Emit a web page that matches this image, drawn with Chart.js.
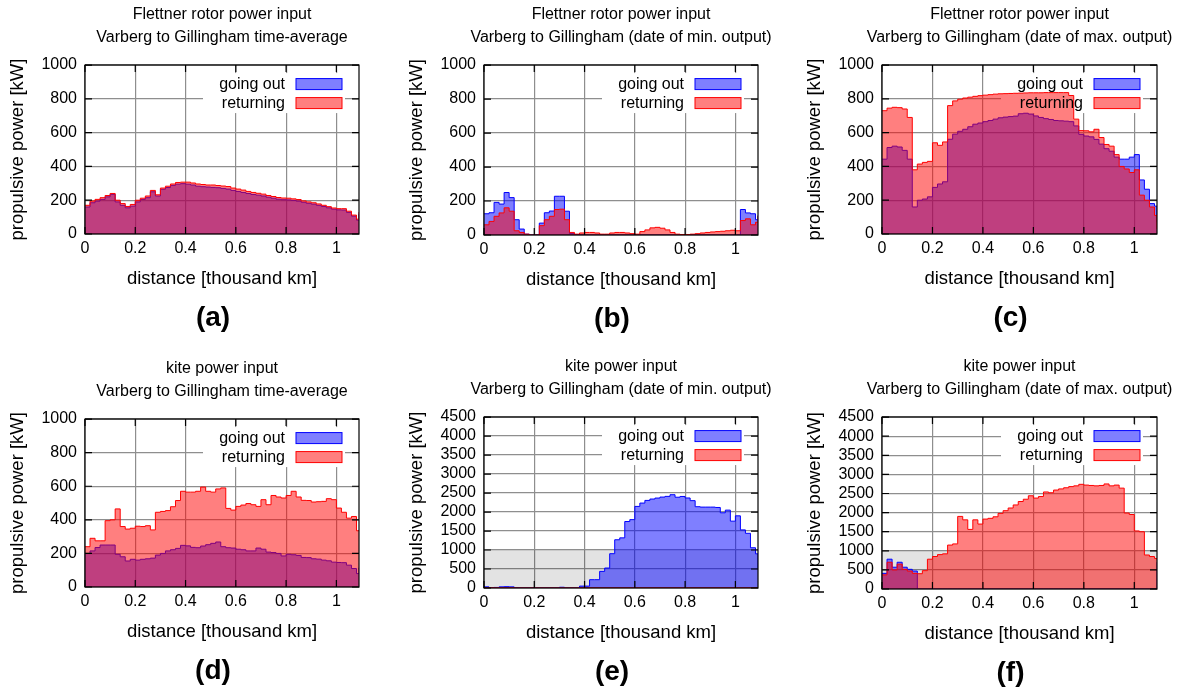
<!DOCTYPE html>
<html>
<head>
<meta charset="utf-8">
<script src="https://cdn.jsdelivr.net/npm/chart.js@4"></script>
<style>
  body { margin: 0; background: #fff; width: 1181px; height: 693px; overflow: hidden; position: relative; }
  canvas { position: absolute; }
</style>
</head>
<body>
<canvas id="pa" width="444" height="347" style="left:0;top:0"></canvas>
<canvas id="pb" width="444" height="348" style="left:399px;top:0"></canvas>
<canvas id="pc" width="445" height="347" style="left:797px;top:0"></canvas>
<canvas id="pd" width="444" height="346" style="left:0;top:354px"></canvas>
<canvas id="pe" width="444" height="349" style="left:399px;top:352px"></canvas>
<canvas id="pf" width="445" height="350" style="left:797px;top:352px"></canvas>
<script>
// distance along the route [thousand km]
const distance = [
  0.00,0.02,0.04,0.06,0.08,0.10,0.12,0.14,0.16,0.18,
  0.20,0.22,0.24,0.26,0.28,0.30,0.32,0.34,0.36,0.38,
  0.40,0.42,0.44,0.46,0.48,0.50,0.52,0.54,0.56,0.58,
  0.60,0.62,0.64,0.66,0.68,0.70,0.72,0.74,0.76,0.78,
  0.80,0.82,0.84,0.86,0.88,0.90,0.92,0.94,0.96,0.98,
  1.00,1.02,1.04,1.06,1.08,1.09
];

// Flettner rotor, time-average (a)
const rotorAvgOut = [
  160,185,195,205,220,235,190,170,155,165,
  190,205,215,250,225,265,275,288,295,298,
  295,290,283,280,278,276,274,270,266,258,
  252,246,240,234,230,225,218,212,206,203,
  202,199,195,188,182,177,170,163,155,147,
  143,142,128,106,82,120
];
const rotorAvgBack = [
  170,195,205,215,228,240,200,180,163,175,
  200,212,225,258,232,272,283,296,305,307,
  307,302,296,293,290,290,287,284,281,272,
  266,260,252,246,241,236,228,222,216,213,
  212,208,204,196,190,185,178,170,162,154,
  150,150,135,112,88,130
];

// Flettner rotor, date of min. output (b)
const rotorMinOut = [
  125,131,192,182,250,220,90,35,5,0,
  0,70,131,141,228,228,140,8,3,0,
  0,0,0,0,0,0,0,0,0,0,
  0,0,0,0,0,0,0,0,0,0,
  0,0,0,0,0,0,0,0,0,0,
  0,150,130,125,90,115
];
const rotorMinBack = [
  60,80,110,130,160,140,25,15,5,0,
  0,55,90,110,150,152,90,15,5,12,
  15,15,12,5,5,12,15,15,12,8,
  5,20,30,42,45,40,30,15,5,3,
  3,5,8,12,15,18,20,22,25,28,
  25,85,95,60,75,110
];

// Flettner rotor, date of max. output (c)
const rotorMaxOut = [
  443,512,520,515,495,443,160,200,207,220,
  276,296,309,561,591,608,620,635,650,657,
  665,672,680,688,692,695,698,712,715,710,
  699,690,683,678,672,670,668,665,640,590,
  580,575,560,532,505,490,455,443,443,455,
  470,320,265,180,165,70
];
const rotorMaxBack = [
  730,745,750,748,740,690,380,414,424,430,
  540,525,545,760,788,798,805,810,815,819,
  822,825,828,830,831,832,833,834,835,836,
  836,836,837,837,837,837,837,820,680,612,
  611,605,620,571,530,520,470,400,385,364,
  380,230,200,160,110,30
];

// kite, time-average (d)
const kiteAvgOut = [
  200,215,235,250,250,250,195,180,155,165,
  160,165,168,172,190,200,215,222,230,248,
  245,236,234,244,252,260,268,240,234,232,
  225,222,215,215,232,225,208,205,200,185,
  195,192,188,176,175,168,166,160,156,148,
  146,145,130,110,80,115
];
const kiteAvgBack = [
  240,290,275,275,395,400,465,360,345,350,
  362,360,365,340,445,450,455,478,515,570,
  565,565,570,595,570,565,584,590,468,458,
  480,488,497,490,480,520,490,545,536,530,
  545,570,536,516,515,506,508,510,526,520,
  470,445,410,420,335,340
];

// kite, date of min. output (e)
const kiteMinOut = [
  30,10,15,30,35,30,5,3,3,3,
  3,3,3,3,3,20,3,3,3,50,
  50,219,219,438,526,903,1270,1320,1750,1800,
  2148,2236,2306,2342,2368,2394,2412,2456,2390,2410,
  2370,2300,2140,2130,2130,2130,2120,1980,2050,1760,
  1900,1530,1440,1060,900,530
];
const kiteMinBack = [
  5,5,4,4,4,4,3,3,3,3,
  3,3,3,3,3,3,3,3,3,3,
  3,3,3,3,3,3,3,3,3,3,
  3,3,3,3,3,3,3,3,3,3,
  3,3,3,3,3,3,3,3,3,3,
  3,3,3,3,3,3
];

// kite, date of max. output (f)
const kiteMaxOut = [
  410,780,570,700,570,515,470,0,0,0,
  0,0,0,0,0,0,0,0,0,0,
  0,0,0,0,0,0,0,0,0,0,
  0,0,0,0,0,0,0,0,0,0,
  0,0,0,0,0,0,0,0,0,0,
  0,0,0,0,0,700
];
const kiteMaxBack = [
  370,700,500,650,515,470,410,400,480,780,
  850,900,920,1150,1180,1900,1810,1560,1810,1700,
  1830,1850,1890,1980,2050,2120,2200,2290,2350,2440,
  2380,2420,2540,2520,2590,2620,2650,2680,2700,2740,
  2720,2710,2700,2710,2750,2700,2720,2640,1990,1950,
  1520,1500,890,850,800,760
];

// shaded 0-1000 kW band in the kite panels (e), (f)
const bandDistance = [0, 1.09];
const bandPower = [1000, 1000];

const seriesNames = ["going out", "returning"];

Chart.defaults.font.family = '"Liberation Sans", Arial, sans-serif';
Chart.defaults.color = "#000";

const gridColor = "#8e8e8e";

// gnuplot-ish frame: key box, border, inward ticks, panel tag
const frame = {
  id: "frame",
  beforeDatasetsDraw(chart) {
    const { ctx, chartArea: a } = chart;
    ctx.save();
    ctx.fillStyle = "#fff";
    ctx.fillRect(a.right - 156, a.top + 8, 142, 40);
    ctx.restore();
  },
  afterDatasetsDraw(chart) {
    const { ctx, chartArea: a, scales } = chart;
    ctx.save();
    ctx.font = '16px "Liberation Sans", Arial, sans-serif';
    ctx.textAlign = "right";
    ctx.textBaseline = "middle";
    chart.data.datasets.filter(d => d.label).forEach((d, i) => {
      const cy = a.top + 19 + i * 19;
      ctx.fillStyle = "#000";
      ctx.fillText(d.label, a.right - 74, cy + 1);
      ctx.fillStyle = d.backgroundColor;
      ctx.fillRect(a.right - 63, cy - 5.5, 46, 11);
      ctx.strokeStyle = d.borderColor;
      ctx.lineWidth = 1;
      ctx.strokeRect(a.right - 63, cy - 5.5, 46, 11);
    });
    ctx.strokeStyle = "#000";
    ctx.lineWidth = 1.2;
    ctx.strokeRect(a.left, a.top, a.right - a.left, a.bottom - a.top);
    ctx.beginPath();
    scales.x.ticks.forEach(t => {
      const px = scales.x.getPixelForValue(t.value);
      ctx.moveTo(px, a.bottom); ctx.lineTo(px, a.bottom - 7);
      ctx.moveTo(px, a.top); ctx.lineTo(px, a.top + 7);
    });
    scales.y.ticks.forEach(t => {
      const py = scales.y.getPixelForValue(t.value);
      ctx.moveTo(a.left, py); ctx.lineTo(a.left + 7, py);
      ctx.moveTo(a.right, py); ctx.lineTo(a.right - 7, py);
    });
    ctx.stroke();
    // panel tag, e.g. "(a)"
    ctx.font = 'bold 28px "Liberation Sans", Arial, sans-serif';
    ctx.textAlign = "center";
    ctx.fillStyle = "#000";
    ctx.fillText(chart.options.plugins.frame.tag, (a.left + a.right) / 2 - 9, a.bottom + 84);
    ctx.restore();
  }
};

const pts = (xs, ys) => xs.map((x, i) => ({ x: x, y: ys[i] }));

function panel(id, titleLines, tag, outVals, backVals, yMax, yStep, band) {
  const datasets = [
    { label: seriesNames[0], data: pts(distance, outVals), order: 2,
      borderColor: "#0000ff", backgroundColor: "rgba(0,0,255,0.5)" },
    { label: seriesNames[1], data: pts(distance, backVals), order: 1,
      borderColor: "#ff0000", backgroundColor: "rgba(255,0,0,0.5)" }
  ];
  if (band) {
    datasets.push({ label: "", data: pts(bandDistance, bandPower), order: 3,
      borderWidth: 0, borderColor: "rgba(0,0,0,0)", backgroundColor: "rgba(0,0,0,0.11)" });
  }
  datasets.forEach(d => {
    d.stepped = true; d.fill = "origin"; d.pointRadius = 0;
    if (d.borderWidth === undefined) d.borderWidth = 1;
  });

  new Chart(document.getElementById(id), {
    type: "line",
    data: { datasets },
    plugins: [frame],
    options: {
      responsive: false, animation: false, events: [],
      layout: { padding: { left: 0, right: 0, top: 0, bottom: 57 } },
      plugins: {
        frame: { tag: tag },
        legend: { display: false },
        tooltip: { enabled: false },
        title: {
          display: true, text: titleLines, fullSize: true,
          font: { size: 16, weight: "normal", lineHeight: 1.44 },
          padding: { top: 3.5, bottom: 15.5 }
        }
      },
      scales: {
        x: {
          type: "linear", min: 0, max: 1.09,
          ticks: { stepSize: 0.2, includeBounds: false, padding: 5, font: { size: 16 },
            maxRotation: 0, autoSkip: false, callback: v => String(Math.round(v * 10) / 10) },
          grid: { color: gridColor, lineWidth: 1.2, drawTicks: false },
          border: { display: false },
          title: { display: true, text: "distance [thousand km]", font: { size: 18.5 },
            padding: { top: 0, bottom: 0 } },
          afterFit: s => { s.height = 56; }
        },
        y: {
          min: 0, max: yMax,
          ticks: { stepSize: yStep, padding: 8, font: { size: 16 }, autoSkip: false,
            callback: v => String(v) },
          grid: { color: gridColor, lineWidth: 1.2, drawTicks: false },
          border: { display: false },
          title: { display: true, text: "propulsive power [kW]", font: { size: 18.5 },
            padding: { top: 7, bottom: 0 } },
          afterFit: s => { s.width = 85; }
        },
        // empty right axis, same width as the left one, keeps the title centred on the plot
        yPad: {
          position: "right", min: 0, max: yMax,
          ticks: { display: false },
          grid: { display: false, drawOnChartArea: false },
          border: { display: false },
          afterFit: s => { s.width = 85; }
        }
      }
    }
  });
}

panel("pa", ["Flettner rotor power input", "Varberg to Gillingham time-average"], "(a)",
  rotorAvgOut, rotorAvgBack, 1000, 200, false);
panel("pb", ["Flettner rotor power input", "Varberg to Gillingham (date of min. output)"], "(b)",
  rotorMinOut, rotorMinBack, 1000, 200, false);
panel("pc", ["Flettner rotor power input", "Varberg to Gillingham (date of max. output)"], "(c)",
  rotorMaxOut, rotorMaxBack, 1000, 200, false);
panel("pd", ["kite power input", "Varberg to Gillingham time-average"], "(d)",
  kiteAvgOut, kiteAvgBack, 1000, 200, false);
panel("pe", ["kite power input", "Varberg to Gillingham (date of min. output)"], "(e)",
  kiteMinOut, kiteMinBack, 4500, 500, true);
panel("pf", ["kite power input", "Varberg to Gillingham (date of max. output)"], "(f)",
  kiteMaxOut, kiteMaxBack, 4500, 500, true);
</script>
</body>
</html>
